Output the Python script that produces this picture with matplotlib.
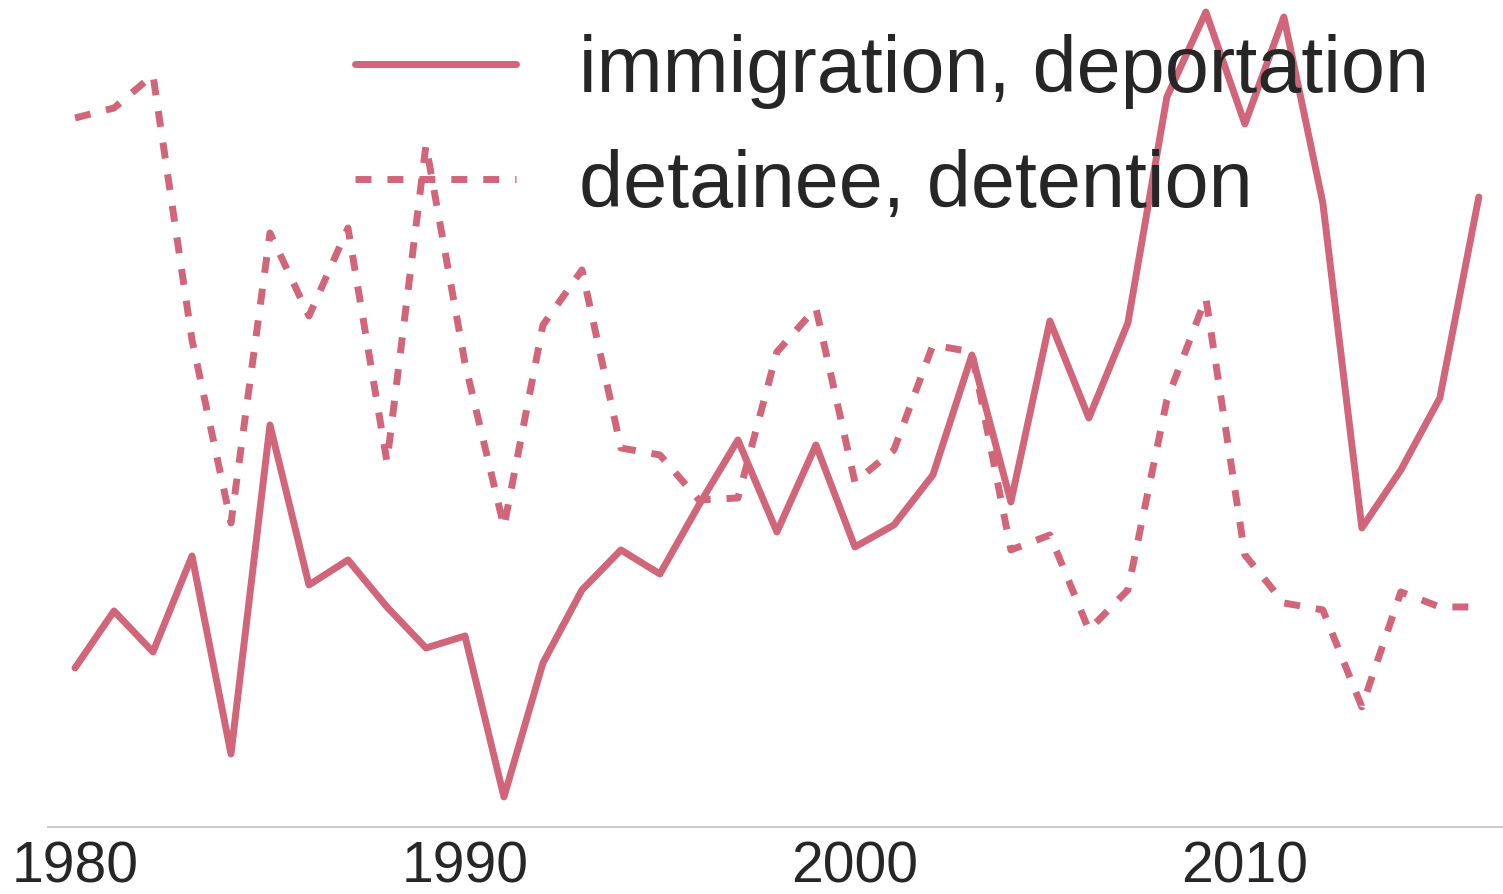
import matplotlib
matplotlib.use("Agg")
import matplotlib.pyplot as plt

years = list(range(1980, 2017))
# relative frequency (arbitrary units)
immigration = [159, 216, 175, 271, 73, 402, 242, 267, 220, 179, 191, 30, 164, 237, 277, 253,
               322, 387, 295, 382, 280, 302, 352, 472, 325, 506, 409, 504, 730, 815, 703, 810,
               624, 299, 357, 429, 630]
detainee = [709, 719, 752, 487, 304, 594, 511, 599, 365, 682, 464, 300, 502, 557, 379, 372,
            327, 329, 475, 519, 345, 377, 482, 475, 277, 292, 197, 237, 427, 529, 272, 224,
            217, 120, 235, 220, 220]
labels = ["immigration, deportation", "detainee, detention"]
color = "#d16579"

plt.rcParams['font.family'] = ['Liberation Sans', 'DejaVu Sans']
fig = plt.figure(figsize=(15.03, 8.94), dpi=100)
ax = fig.add_axes([0.032, 0.075, 0.968, 0.925])

ax.plot(years, immigration, color=color, lw=5, solid_capstyle='round',
        solid_joinstyle='round', label=labels[0])
ax.plot(years, detainee, color=color, lw=5, linestyle=(0, (2.3, 2.3)),
        dash_joinstyle='round', dash_capstyle='butt', label=labels[1])

ax.set_xlim(1979.31, 2016.62)
ax.set_ylim(0, 827)
ax.set_yticks([])
ax.set_xticks([1980, 1990, 2000, 2010])
ax.tick_params(axis='x', length=0, pad=10, labelsize=41, colors='#262626')
for s in ['top', 'right', 'left']:
    ax.spines[s].set_visible(False)
ax.spines['bottom'].set_color('#cccccc')
ax.spines['bottom'].set_linewidth(1.5)

leg = ax.legend(loc='upper right', bbox_to_anchor=(0.998, 1.045), frameon=False,
                fontsize=57, handlelength=2.03, handletextpad=0.8, labelspacing=0.5)
for t in leg.get_texts():
    t.set_color('#262626')

fig.savefig("out.png", dpi=100)
